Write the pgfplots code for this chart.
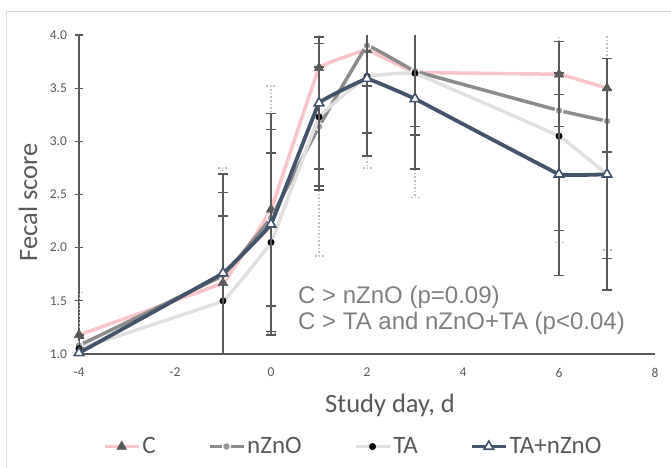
\documentclass[border=0pt]{standalone}
\usepackage{fontspec}
\setmainfont{Carlito}
\newfontfamily\arialf{Liberation Sans}
\usepackage{pgfplots}
\pgfplotsset{compat=1.18}
\definecolor{cpink}{HTML}{F7C5CA}
\definecolor{cdark}{HTML}{595959}
\definecolor{cmid}{HTML}{8C8C8C}
\definecolor{clight}{HTML}{E0E0E0}
\definecolor{cnavy}{HTML}{44546A}
\definecolor{ctxt}{HTML}{7F7F7F}
\definecolor{cborder}{HTML}{D9D9D9}
\definecolor{cdot}{HTML}{BFBFBF}

\begin{document}
\begin{tikzpicture}
\path[use as bounding box] (-79bp,-114bp) rectangle (592bp,354bp);
\draw[cborder, line width=1bp] (-72bp,-114bp) -- (-72bp,342bp) -- (592bp,342bp);
\begin{axis}[
  at={(0,0)}, anchor=south west,
  scale only axis, width=576bp, height=319bp,
  xmin=-4, xmax=8, ymin=1, ymax=4,
  axis lines=left, axis line style={-, draw=cdark, line width=1.6bp},
  xtick={-4,-2,...,8}, ytick={1,1.5,...,4},
  xtick style={draw=none},
  ytick style={draw=cdark, line width=1.3bp},
  tick align=center, major tick length=9bp,
  /pgf/number format/assume math mode=true,
  yticklabel style={/pgf/number format/.cd, fixed, fixed zerofill, precision=1, /tikz/xshift=-4bp},
  ticklabel style={font=\fontsize{13.5bp}{16bp}\selectfont, text=cdark},
  xticklabel style={yshift=-6bp},
  xlabel={Study day, d}, ylabel={Fecal score},
  label style={font=\fontsize{26.5bp}{30bp}\selectfont, text=cdark},
  xlabel style={at={(axis description cs:0.54,-0.16)}, anchor=center},
  ylabel style={at={(axis description cs:-0.0885,0.476)}, anchor=center, rotate=0},
  clip mode=individual,
  legend columns=4,
  legend style={draw=none, fill=none, at={(0.476,-0.29)}, anchor=center,
    font=\fontsize{25bp}{29bp}\selectfont, text=cdark,
    /tikz/every even column/.append style={column sep=50bp},
    inner sep=0pt},
  legend image code/.code={\draw[mark repeat=2,mark phase=2] plot coordinates {(0bp,0bp) (17bp,0bp) (34bp,0bp)};},
  every axis plot/.append style={smooth, tension=0.08},
  error bars/y dir=both, error bars/y explicit,
  error bars/error bar style={line width=1.6bp, draw=cdark, solid},
  error bars/error mark options={rotate=90, mark size=5bp, line width=1.6bp, draw=cdark, solid},
]
% C
\addplot[cpink, line width=3.5bp, mark=triangle*, mark size=5.5bp,
  mark options={fill=cdark, draw=cdark, line width=0.5bp},
  error bars/error bar style={line width=1.6bp, draw=cdot, dotted},
  error bars/error mark options={rotate=90, mark size=5bp, line width=1.6bp, draw=cdot, dotted}]
  coordinates {
  (-4,1.18) +- (0,0.40)
  (-1,1.67) +- (0,1.08)
  (0,2.36) +- (0,1.16)
  (1,3.69) +- (0,1.77)
  (2,3.86) +- (0,1.11)
  (3,3.65) +- (0,1.18)
  (6,3.63) +- (0,1.58)
  (7,3.50) +- (0,1.52)};
% nZnO
\addplot[cmid, line width=3.5bp, mark=*, mark size=4bp,
  mark options={fill=cdot!80!black, draw=white, line width=1.2bp}]
  coordinates {
  (-4,1.08) +- (0,0.10)
  (-1,1.74) +- (0,0.78)
  (0,2.28) +- (0,0.83)
  (1,3.14) +- (0,0.56)
  (2,3.90) +- (0,0.38)
  (3,3.66) +- (0,0.52)
  (6,3.29) +- (0,0.15)
  (7,3.19) +- (0,0.29)};
% TA
\addplot[clight, line width=3.5bp, mark=*, mark size=3.2bp,
  mark options={fill=black, draw=black, line width=0.5bp}]
  coordinates {
  (-4,1.05) +- (0,0.10)
  (-1,1.50) +- (0,0.80)
  (0,2.05) +- (0,0.84)
  (1,3.23) +- (0,0.69)
  (2,3.61) +- (0,0.53)
  (3,3.64) +- (0,0.58)
  (6,3.05) +- (0,0.89)
  (7,2.69) +- (0,0.79)};
% TA+nZnO
\addplot[cnavy, line width=3.8bp, mark=triangle*, mark size=5.5bp,
  mark options={fill=white, draw=cnavy, line width=1.6bp}]
  coordinates {
  (-4,1.01) +- (0,0.05)
  (-1,1.76) +- (0,0.93)
  (0,2.22) +- (0,1.04)
  (1,3.36) +- (0,0.62)
  (2,3.59) +- (0,0.73)
  (3,3.40) +- (0,0.66)
  (6,2.69) +- (0,0.95)
  (7,2.69) +- (0,1.09)};
\legend{C,nZnO,TA,TA+nZnO}
\node[anchor=west, align=left, inner sep=0pt, text=ctxt,
  font=\arialf\fontsize{24bp}{26bp}\selectfont]
  at (axis cs:0.5625,1.415) {C > nZnO (p=0.09)\\C > TA and nZnO+TA (p<0.04)};
\end{axis}
\end{tikzpicture}
\end{document}
